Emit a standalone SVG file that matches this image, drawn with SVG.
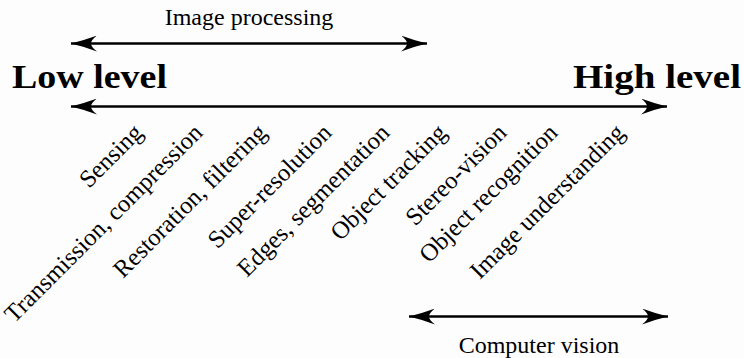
<svg xmlns="http://www.w3.org/2000/svg" width="744" height="358" viewBox="0 0 744 358">
  <style>
    text { font-family: 'Liberation Serif', 'Times New Roman', 'DejaVu Serif', serif; fill: #000; }
    .lbl { font-size: 24px; }
    .tilt { font-size: 24.6px; }
    .big { font-size: 34px; font-weight: bold; }
    .span { stroke: #000; stroke-width: 2.6; fill: none; }
  </style>
  <defs>
    <marker id="head" viewBox="0 0 26 16" markerWidth="26" markerHeight="16" refX="26" refY="8" orient="auto-start-reverse" markerUnits="userSpaceOnUse">
      <path d="M26,8 Q14,5.2 0,0 Q6,4.5 6,8 Q6,11.5 0,16 Q14,10.8 26,8 Z" fill="#000"/>
    </marker>
  </defs>
  <rect width="744" height="358" fill="#fdfdfd"/>

  <g id="connectors">
    <line class="span" x1="71" y1="43.5" x2="427" y2="43.5" marker-start="url(#head)" marker-end="url(#head)"/>
    <line class="span" x1="71" y1="106.5" x2="667" y2="106.5" marker-start="url(#head)" marker-end="url(#head)"/>
    <line class="span" x1="409" y1="316.5" x2="668" y2="316.5" marker-start="url(#head)" marker-end="url(#head)"/>
  </g>

  <g id="image-processing"><text class="lbl" x="249" y="25" text-anchor="middle">Image processing</text></g>
  <g id="low-level"><text class="big" x="12" y="88" textLength="155" lengthAdjust="spacingAndGlyphs">Low level</text></g>
  <g id="high-level"><text class="big" x="573" y="88" textLength="168" lengthAdjust="spacingAndGlyphs">High level</text></g>
  <g id="computer-vision"><text class="lbl" x="539" y="353" text-anchor="middle">Computer vision</text></g>

  <!-- task labels, right-aligned along a common row and tilted 45 degrees -->
  <g id="sensing"><text class="tilt" text-anchor="end" transform="translate(144,134) rotate(-45)">Sensing</text></g>
  <g id="transmission"><text class="tilt" text-anchor="end" transform="translate(204,134) rotate(-45)">Transmission, compression</text></g>
  <g id="restoration"><text class="tilt" text-anchor="end" transform="translate(268,134) rotate(-45)">Restoration, filtering</text></g>
  <g id="super-resolution"><text class="tilt" text-anchor="end" transform="translate(333,134) rotate(-45)">Super-resolution</text></g>
  <g id="edges"><text class="tilt" text-anchor="end" transform="translate(391,134) rotate(-45)">Edges, segmentation</text></g>
  <g id="object-tracking"><text class="tilt" text-anchor="end" transform="translate(448,134) rotate(-45)">Object tracking</text></g>
  <g id="stereo-vision"><text class="tilt" text-anchor="end" transform="translate(508,134) rotate(-45)">Stereo-vision</text></g>
  <g id="object-recognition"><text class="tilt" text-anchor="end" transform="translate(559,134) rotate(-45)">Object recognition</text></g>
  <g id="image-understanding"><text class="tilt" text-anchor="end" transform="translate(626,134) rotate(-45)">Image understanding</text></g>
</svg>
